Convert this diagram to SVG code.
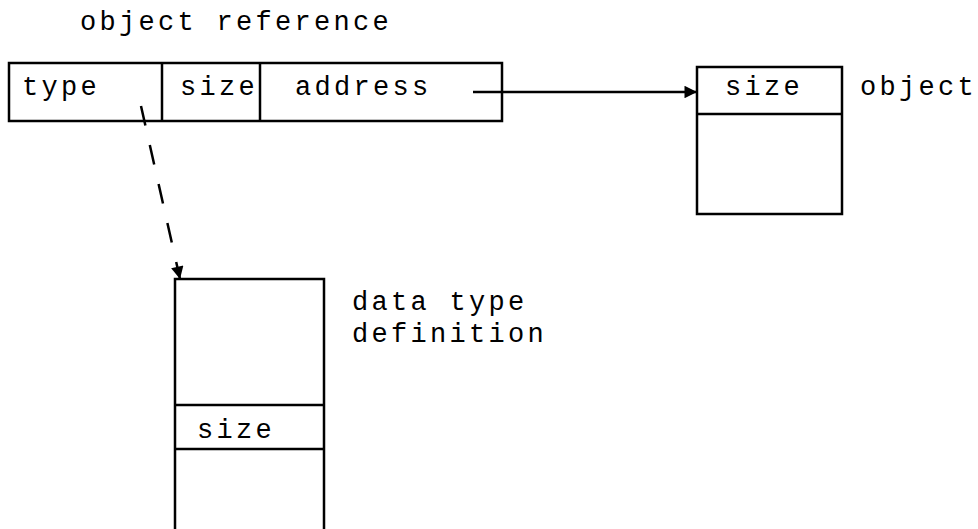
<svg xmlns="http://www.w3.org/2000/svg" width="978" height="529" viewBox="0 0 978 529">
  <style>
    .box { fill: none; stroke: #000; stroke-width: 2.5; }
    .lbl { font-family: "Liberation Mono", "Courier New", monospace; font-size: 27px; letter-spacing: 3.3px; fill: #000; }
    .conn { fill: none; stroke: #000; stroke-width: 2.5; }
  </style>
  <defs>
    <marker id="arrow" viewBox="0 0 10 10" refX="10" refY="5" markerWidth="6" markerHeight="5" markerUnits="strokeWidth" orient="auto">
      <path d="M0,0 L10,5 L0,10 z" fill="#000"/>
    </marker>
  </defs>
  <rect width="978" height="529" fill="#fff"/>

  <!-- reference record: type | size | address -->
  <g id="object-reference">
    <text class="lbl" x="80" y="30">object reference</text>
    <rect class="box" x="9" y="63" width="493" height="58"/>
    <line class="box" x1="162" y1="63" x2="162" y2="121"/>
    <line class="box" x1="260" y1="63" x2="260" y2="121"/>
    <text class="lbl" x="22" y="95">type</text>
    <text class="lbl" x="180" y="95">size</text>
    <text class="lbl" x="295" y="95">address</text>
  </g>

  <!-- referenced object -->
  <g id="object">
    <rect class="box" x="697" y="67" width="145" height="147"/>
    <line class="box" x1="697" y1="114" x2="842" y2="114"/>
    <text class="lbl" x="725" y="95">size</text>
    <text class="lbl" x="860" y="95">object</text>
  </g>

  <!-- data type definition, open at the bottom -->
  <g id="data-type-definition">
    <path class="box" d="M175,532 L175,279 L324,279 L324,532"/>
    <line class="box" x1="175" y1="405" x2="324" y2="405"/>
    <line class="box" x1="175" y1="449" x2="324" y2="449"/>
    <text class="lbl" x="197" y="438">size</text>
    <text class="lbl" x="352" y="310">data type</text>
    <text class="lbl" x="352" y="342">definition</text>
  </g>

  <g id="connectors">
    <line class="conn" x1="473" y1="92" x2="697" y2="92" marker-end="url(#arrow)"/>
    <line class="conn" x1="141" y1="106" x2="180" y2="279" stroke-dasharray="20 20" marker-end="url(#arrow)"/>
  </g>
</svg>
